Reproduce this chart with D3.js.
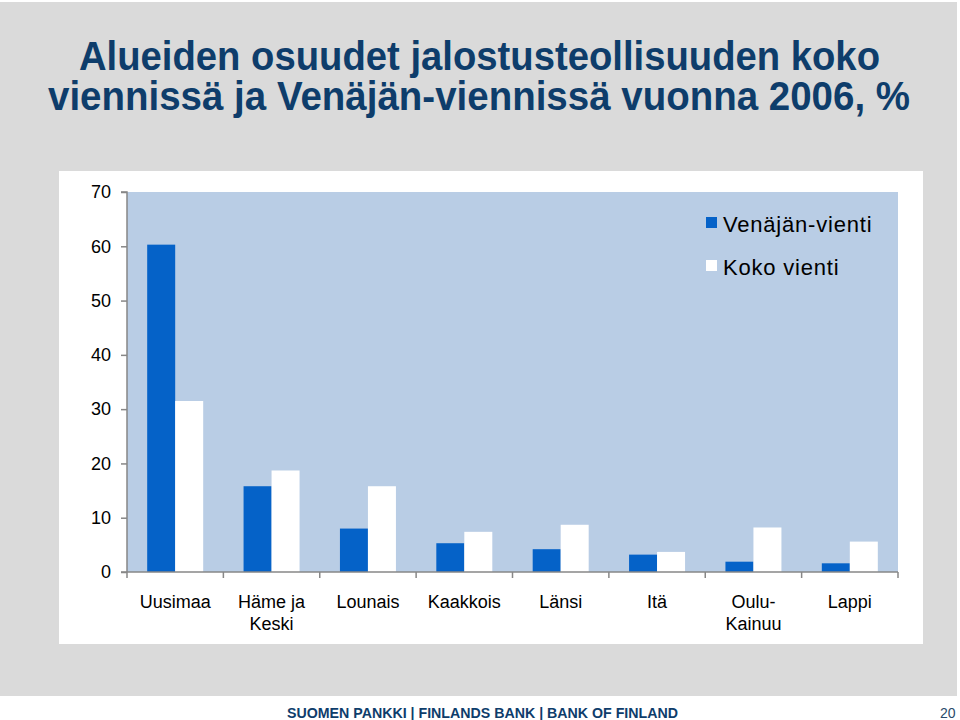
<!DOCTYPE html>
<html>
<head>
<meta charset="utf-8">
<script src="https://cdn.jsdelivr.net/npm/d3@7"></script>
<style>
  html, body { margin: 0; padding: 0; background: #ffffff; }
  svg { display: block; }
</style>
</head>
<body>
<svg id="chart" width="960" height="720"></svg>
<script>
// ---- Data ----
const categories = ["Uusimaa", "Häme ja\nKeski", "Lounais", "Kaakkois", "Länsi", "Itä", "Oulu-\nKainuu", "Lappi"];
const seriesNames = ["Venäjän-vienti", "Koko vienti"];
const venajanVienti = [60.3, 15.8, 8.0, 5.3, 4.2, 3.2, 1.9, 1.6];
const kokoVienti = [31.5, 18.7, 15.8, 7.4, 8.7, 3.7, 8.2, 5.6];
const yTicks = [0, 10, 20, 30, 40, 50, 60, 70];
const titleLines = ["Alueiden osuudet jalostusteollisuuden koko", "viennissä ja Venäjän-viennissä vuonna 2006, %"];
const footerText = "SUOMEN PANKKI | FINLANDS BANK | BANK OF FINLAND";
const pageNumber = "20";

// ---- Styles ----
const seriesColors = ["#0562c8", "#ffffff"];
const svg = d3.select("#chart");

// background slide
svg.append("rect").attr("x", 0).attr("y", 2).attr("width", 957).attr("height", 694).attr("fill", "#dadada");
// white chart panel
svg.append("rect").attr("x", 59).attr("y", 171).attr("width", 864).attr("height", 473).attr("fill", "#ffffff");

// Title
const titleG = svg.append("g");
const titleSpecs = [{x: 79, y: 70, w: 801}, {x: 48, y: 110, w: 862}];
titleLines.forEach((t, i) => {
  titleG.append("text")
    .attr("x", titleSpecs[i].x)
    .attr("y", titleSpecs[i].y)
    .attr("textLength", titleSpecs[i].w)
    .attr("lengthAdjust", "spacingAndGlyphs")
    .attr("font-family", "'Liberation Sans Narrow', 'Liberation Sans', Arial, sans-serif")
    .attr("font-weight", "bold")
    .attr("font-size", 40)
    .attr("fill", "#0e3d6b")
    .text(t);
});

// Plot area
const plot = {left: 127, top: 192, right: 898, bottom: 572};
const x0 = d3.scaleBand().domain(d3.range(categories.length))
  .range([plot.left, plot.right]).paddingInner(0.419).paddingOuter(0.2095);
const x1 = d3.scaleBand().domain(d3.range(seriesNames.length)).range([0, x0.bandwidth()]);
const y = d3.scaleLinear().domain([0, 70]).range([plot.bottom, plot.top]);

svg.append("rect").attr("x", plot.left).attr("y", plot.top)
  .attr("width", plot.right - plot.left).attr("height", plot.bottom - plot.top)
  .attr("fill", "#b9cde5");

// Bars
const seriesValues = [venajanVienti, kokoVienti];
seriesValues.forEach((vals, s) => {
  svg.append("g").selectAll("rect").data(vals).join("rect")
    .attr("x", (d, i) => x0(i) + x1(s))
    .attr("y", d => y(d))
    .attr("width", x1.bandwidth())
    .attr("height", d => y(0) - y(d))
    .attr("fill", seriesColors[s]);
});

// Y axis
const yAxis = d3.axisLeft(y).tickValues(yTicks).tickSize(6).tickPadding(10);
const yg = svg.append("g").attr("transform", `translate(${plot.left},0)`).call(yAxis);
yg.select(".domain").attr("stroke", "#878787").attr("stroke-width", 1.5).attr("d", `M-6,${plot.top}H0V${plot.bottom}`);
yg.selectAll(".tick line").attr("stroke", "#878787").attr("stroke-width", 1.5);
yg.selectAll(".tick text").attr("font-family", "Arial, 'Liberation Sans', sans-serif")
  .attr("font-size", 18).attr("fill", "#000");

// X axis
const xg = svg.append("g");
xg.append("line").attr("x1", plot.left - 6).attr("x2", plot.right)
  .attr("y1", plot.bottom).attr("y2", plot.bottom)
  .attr("stroke", "#878787").attr("stroke-width", 1.5);
xg.selectAll("line.tk").data(d3.range(categories.length + 1)).join("line")
  .attr("class", "tk")
  .attr("x1", i => x0(0) - (x0.step() - x0.bandwidth()) / 2 + i * x0.step())
  .attr("x2", i => x0(0) - (x0.step() - x0.bandwidth()) / 2 + i * x0.step())
  .attr("y1", plot.bottom).attr("y2", plot.bottom + 6)
  .attr("stroke", "#878787").attr("stroke-width", 1.5);

const lbl = xg.selectAll("text.cat").data(categories).join("text")
  .attr("class", "cat")
  .attr("x", (d, i) => x0(i) + x0.bandwidth() / 2)
  .attr("y", 608)
  .attr("text-anchor", "middle")
  .attr("font-family", "Arial, 'Liberation Sans', sans-serif")
  .attr("font-size", 18)
  .attr("fill", "#000");
lbl.each(function(d, i) {
  const parts = d.split("\n");
  const t = d3.select(this);
  parts.forEach((p, k) => {
    t.append("tspan").attr("x", x0(i) + x0.bandwidth() / 2).attr("dy", k === 0 ? 0 : 22).text(p);
  });
});

// Legend
const legend = svg.append("g");
const legendY = [232, 275];
seriesNames.forEach((n, i) => {
  legend.append("rect").attr("x", 706).attr("y", legendY[i] - 15).attr("width", 11).attr("height", 11)
    .attr("fill", seriesColors[i]);
  legend.append("text").attr("x", 723).attr("y", legendY[i])
    .attr("font-family", "Arial, 'Liberation Sans', sans-serif")
    .attr("font-size", 22).attr("letter-spacing", 0.8).attr("fill", "#000").text(n);
});

// Footer
svg.append("text").attr("x", 287).attr("y", 718)
  .attr("textLength", 391).attr("lengthAdjust", "spacingAndGlyphs")
  .attr("font-family", "'Liberation Sans Narrow', 'Liberation Sans', Arial, sans-serif")
  .attr("font-weight", "bold").attr("font-size", 14).attr("fill", "#0e3d6b")
  .text(footerText);
svg.append("text").attr("x", 940).attr("y", 718)
  .attr("font-family", "'Liberation Sans Narrow', 'Liberation Sans', Arial, sans-serif")
  .attr("font-size", 14).attr("fill", "#2a4a6a")
  .text(pageNumber);
</script>
</body>
</html>
